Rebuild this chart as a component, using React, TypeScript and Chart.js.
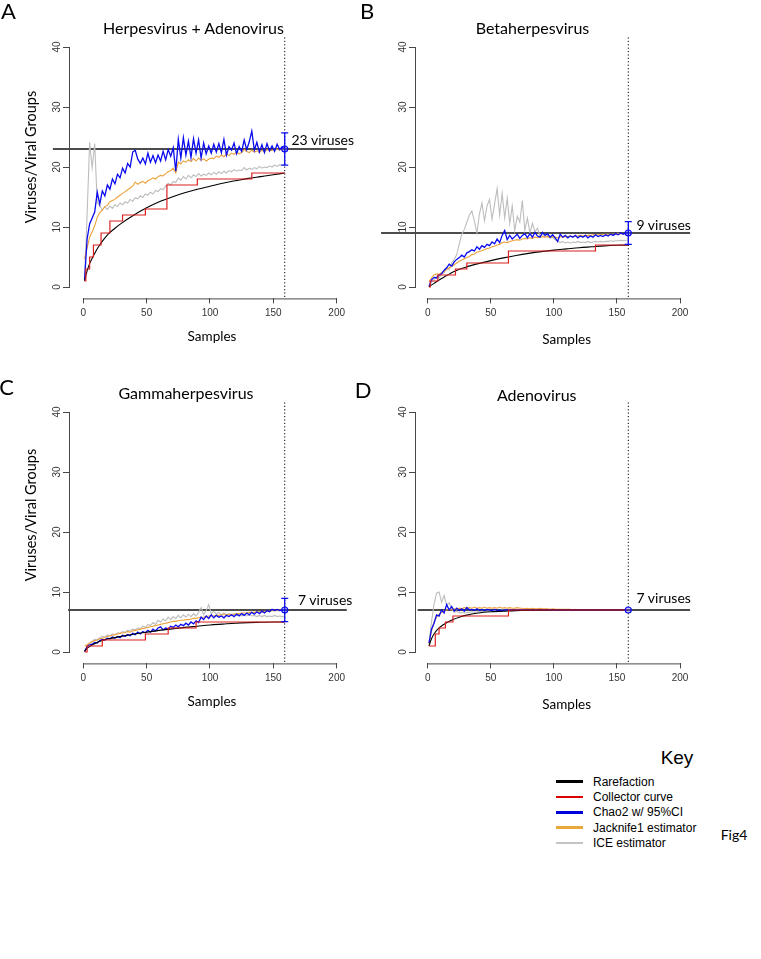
import React, { useEffect, useRef } from 'react';
import { Chart, registerables } from 'chart.js';

Chart.register(...registerables);

// ---------- shared axis data ----------
const SAMPLES = Array.from({ length: 80 }, (_, i) => 1 + 2 * i); // sample numbers 1,3,...,159
const SURVEY_SIZE = 159;
const X_TICKS = [0, 50, 100, 150, 200];
const Y_TICKS = [0, 10, 20, 30, 40];

// ---------- Panel A : Herpesvirus + Adenovirus ----------
const A_RARE_X = [1, 3, 5, 8, 12, 16, 20, 25, 30, 40, 50, 60, 70, 80, 90, 100, 110, 120, 130, 140, 150, 159];
const A_RARE_Y = [1.0, 2.7, 3.9, 5.2, 6.7, 7.9, 8.9, 9.8, 10.6, 12.0, 13.2, 14.2, 15.0, 15.7, 16.3, 16.8, 17.3, 17.7, 18.1, 18.4, 18.7, 19.0];
const A_COLL_X = [1, 2, 5, 8, 14, 21, 31, 49, 66, 90, 133, 159];
const A_COLL_Y = [1, 3, 5, 7, 9, 11, 12, 13, 17, 18, 19, 19];
const A_CHAO2 = [
  1.2, 8.0, 10.5, 11.5, 12.5, 15.8, 13.8, 16.0, 15.2, 17.0,
  16.3, 18.0, 17.2, 18.8, 18.2, 19.8, 19.0, 20.6, 20.0, 22.5,
  22.8, 21.3, 20.6, 21.5, 20.5, 22.3, 20.8, 21.9, 20.7, 22.0,
  21.0, 22.6, 21.2, 22.9, 21.8, 23.2, 19.3, 24.6, 21.5, 24.9,
  22.0, 24.3, 21.6, 24.7, 22.3, 24.5, 21.5, 24.0, 22.2, 23.5,
  22.3, 23.8, 22.5, 23.9, 22.4, 24.6, 22.0, 23.4, 22.8, 24.0,
  22.2, 23.4, 22.6, 24.5, 22.9, 24.2, 26.0, 22.8, 24.1, 22.5,
  23.7, 22.4, 23.9, 22.7, 23.5, 22.6, 23.8, 22.9, 23.4, 23.0,
];
const A_JACK1 = [
  4.7, 6.5, 8.3, 9.2, 10.2, 11.6, 12.4, 12.8, 13.4, 13.6,
  14.2, 14.4, 14.6, 15.0, 15.3, 15.6, 15.9, 16.2, 16.5, 16.8,
  17.5, 17.1, 17.4, 17.6, 17.3, 17.7, 17.9, 18.2, 18.0, 18.4,
  18.6, 18.5, 18.9, 19.2, 19.4, 19.8, 19.0, 20.8, 20.5, 21.0,
  20.8, 21.2, 20.9, 21.4, 21.0, 21.5, 21.1, 21.4, 21.0, 21.3,
  21.5, 21.4, 21.8, 21.6, 22.0, 21.7, 22.2, 21.9, 22.3, 22.1,
  22.5, 22.2, 22.4, 22.9, 22.6, 22.4, 22.8, 22.5, 22.7, 22.4,
  22.8, 22.6, 22.9, 22.7, 22.8, 22.9, 23.0, 22.8, 23.0, 23.0,
];
const A_ICE = [
  1.2, 12.0, 24.1, 19.9, 23.9, 14.0, 13.6, 12.8, 13.4, 12.9,
  13.5, 13.1, 13.7, 13.4, 14.0, 13.7, 14.2, 14.0, 14.6, 14.3,
  14.9, 14.7, 15.2, 14.9, 15.5, 15.3, 15.8, 15.5, 16.1, 15.9,
  16.4, 16.2, 16.8, 17.3, 17.0, 17.6, 17.4, 18.2, 17.8, 18.4,
  18.0, 18.6, 18.2, 18.7, 18.4, 18.9, 18.5, 18.8, 18.6, 19.0,
  18.7, 19.1, 18.8, 19.2, 18.9, 19.3, 19.0, 19.4, 19.2, 19.6,
  19.3, 19.5, 19.4, 19.9, 19.5, 19.8, 19.6, 19.9, 19.7, 20.1,
  19.8, 20.0, 19.9, 20.2, 20.0, 20.3, 20.1, 20.4, 20.3, 20.4,
];
const A_OBSERVED = 23;
const A_CI = [20.3, 25.7];

// ---------- Panel B : Betaherpesvirus ----------
const B_RARE_X = [1, 5, 10, 15, 20, 30, 40, 50, 60, 70, 80, 90, 100, 110, 120, 130, 140, 150, 159];
const B_RARE_Y = [0.05, 0.6, 1.3, 1.9, 2.5, 3.3, 3.9, 4.4, 4.85, 5.25, 5.6, 5.9, 6.15, 6.35, 6.55, 6.7, 6.85, 6.95, 7.0];
const B_COLL_X = [1, 2, 8, 22, 31, 64, 133, 159];
const B_COLL_Y = [0, 1, 2, 3, 4, 6, 7, 7];
const B_CHAO2 = [
  0.1, 1.2, 1.6, 1.5, 2.0, 2.2, 2.8, 3.2, 3.8, 3.5,
  4.2, 4.6, 4.9, 5.3, 5.0, 5.7, 5.9, 6.2, 6.0, 6.7,
  6.3, 6.9, 6.6, 7.1, 6.9, 7.5, 7.2, 8.0, 7.4, 8.6,
  9.4, 7.9, 8.6, 8.0, 8.4, 8.8, 8.1, 8.6, 8.9, 8.2,
  8.9, 8.3, 9.1, 8.5, 8.3, 9.1, 8.6, 8.9, 8.3, 8.7,
  8.2, 7.6, 8.8, 8.3, 8.6, 8.2, 8.5, 8.3, 8.6, 8.2,
  8.5, 8.3, 8.6, 8.2, 8.5, 8.3, 8.7, 8.4, 8.6, 8.4,
  8.7, 8.5, 8.8, 8.6, 8.9, 8.7, 9.0, 8.8, 9.0, 9.0,
];
const B_JACK1 = [
  0.9, 1.5, 2.0, 2.2, 2.1, 2.4, 2.6, 2.9, 3.2, 3.4,
  3.7, 4.0, 4.3, 4.5, 4.7, 4.9, 5.1, 5.4, 5.5, 5.8,
  5.9, 6.1, 6.2, 6.4, 6.5, 6.7, 6.8, 7.0, 7.1, 7.4,
  7.5, 7.4, 7.6, 7.7, 7.8, 7.9, 7.8, 8.0, 8.1, 8.0,
  8.2, 8.1, 8.3, 8.2, 8.3, 8.4, 8.3, 8.4, 8.3, 8.4,
  8.3, 8.2, 8.4, 8.3, 8.4, 8.4, 8.5, 8.4, 8.5, 8.5,
  8.6, 8.5, 8.6, 8.6, 8.6, 8.7, 8.7, 8.7, 8.7, 8.8,
  8.8, 8.8, 8.8, 8.8, 8.9, 8.9, 8.9, 8.9, 8.9, 9.0,
];
const B_ICE = [
  0.1, 0.8, 1.2, 1.8, 1.5, 2.2, 2.4, 3.2, 2.9, 4.0,
  4.6, 5.4, 7.2, 8.8, 9.6, 10.8, 12.0, 12.7, 11.0, 9.0,
  12.2, 14.0, 11.0, 13.5, 14.6, 11.3, 13.8, 16.4, 12.0, 15.6,
  11.5, 14.8, 10.6, 13.5, 9.4, 11.8, 10.8, 14.4, 9.4, 11.5,
  9.0, 10.6, 9.2, 9.8, 8.5, 8.8, 8.3, 8.6, 8.1, 8.3,
  7.9, 7.6, 7.4, 7.6, 7.3, 7.5, 7.3, 7.5, 7.4, 7.6,
  7.4, 7.5, 7.4, 7.6, 7.4, 7.5, 7.6, 7.5, 7.6, 7.5,
  7.6, 7.6, 7.7, 7.6, 7.7, 7.7, 7.8, 7.7, 7.8, 7.8,
];
const B_OBSERVED = 9;
const B_CI = [7.1, 10.9];

// ---------- Panel C : Gammaherpesvirus ----------
const C_RARE_X = [1, 3, 5, 10, 15, 20, 30, 40, 50, 60, 70, 80, 90, 100, 110, 120, 130, 140, 150, 159];
const C_RARE_Y = [0.1, 0.6, 0.9, 1.5, 1.9, 2.2, 2.6, 3.0, 3.3, 3.6, 3.85, 4.1, 4.3, 4.5, 4.65, 4.8, 4.9, 4.95, 5.0, 5.0];
const C_COLL_X = [1, 3, 15, 49, 67, 89, 159];
const C_COLL_Y = [0, 1, 2, 3, 4, 5, 5];
const C_CHAO2 = [
  0.1, 0.9, 1.2, 1.3, 1.6, 1.5, 1.9, 2.1, 2.0, 2.3,
  2.2, 2.5, 2.3, 2.6, 2.4, 2.8, 2.6, 2.9, 2.7, 3.1,
  2.9, 3.3, 3.0, 3.4, 3.2, 3.6, 3.3, 3.8, 3.5, 4.0,
  4.2, 3.7, 4.0, 3.8, 4.3, 4.1, 4.5, 4.2, 4.6, 4.4,
  4.8, 4.5, 5.0, 4.7, 5.2, 4.9, 5.8, 5.4, 6.0, 5.6,
  6.2, 5.7, 6.1, 5.8, 6.0, 5.7, 6.1, 5.9, 6.2, 5.9,
  6.3, 6.0, 6.4, 6.1, 6.5, 6.2, 6.6, 6.3, 6.7, 6.4,
  6.8, 6.5, 6.9, 6.7, 7.1, 6.9, 7.1, 6.9, 7.0, 7.0,
];
const C_JACK1 = [
  1.0, 1.2, 1.5, 1.7, 1.9, 2.0, 2.2, 2.3, 2.4, 2.6,
  2.7, 2.8, 2.9, 3.0, 3.1, 3.2, 3.2, 3.4, 3.3, 3.5,
  3.6, 3.7, 3.8, 3.9, 4.0, 4.1, 4.2, 4.3, 4.4, 4.5,
  4.6, 4.7, 4.8, 4.9, 5.0, 5.1, 5.1, 5.2, 5.3, 5.3,
  5.4, 5.4, 5.5, 5.6, 5.6, 5.7, 5.8, 5.8, 5.9, 6.0,
  6.0, 6.0, 6.1, 6.1, 6.2, 6.2, 6.2, 6.3, 6.3, 6.3,
  6.4, 6.4, 6.5, 6.5, 6.5, 6.6, 6.6, 6.6, 6.7, 6.7,
  6.7, 6.8, 6.8, 6.8, 6.9, 6.9, 6.9, 7.0, 7.0, 7.0,
];
const C_ICE = [
  0.1, 1.0, 1.5, 1.8, 2.1, 2.0, 2.4, 2.6, 2.5, 2.8,
  2.7, 3.0, 2.9, 3.2, 3.1, 3.4, 3.3, 3.6, 3.5, 3.8,
  3.7, 4.0, 3.9, 4.3, 4.1, 4.6, 4.4, 4.9, 4.6, 5.3,
  5.0, 5.5, 5.2, 5.8, 5.4, 5.9, 5.6, 6.1, 5.7, 6.2,
  5.8, 6.3, 5.9, 6.4, 6.0, 6.6, 7.4, 6.2, 6.9, 7.9,
  6.4, 6.8, 6.3, 6.6, 6.2, 6.5, 6.2, 6.4, 6.1, 6.3,
  6.1, 6.3, 6.0, 6.2, 6.0, 6.2, 6.0, 6.1, 5.9, 6.1,
  5.9, 6.1, 5.9, 6.0, 5.9, 6.1, 5.9, 6.0, 5.9, 6.0,
];
const C_OBSERVED = 7;
const C_CI = [5.05, 8.95];

// ---------- Panel D : Adenovirus ----------
const D_RARE_X = [1, 3, 5, 8, 12, 16, 20, 25, 30, 40, 50, 60, 70, 80, 100, 159];
const D_RARE_Y = [1.0, 2.2, 3.0, 3.8, 4.5, 5.0, 5.4, 5.8, 6.1, 6.5, 6.7, 6.8, 6.9, 6.95, 7.0, 7.0];
const D_COLL_X = [1, 6, 9, 14, 20, 64, 159];
const D_COLL_Y = [1, 3, 4, 5, 6, 7, 7];
const D_CHAO2 = [
  1.5, 3.8, 4.8, 6.2, 6.0, 7.0, 6.5, 7.9, 7.0, 7.6,
  6.8, 7.3, 6.9, 7.2, 6.8, 7.4, 7.0, 7.1, 6.9, 7.2,
  6.9, 7.1, 6.9, 7.1, 7.0, 6.9, 7.1, 6.9, 7.0, 6.9,
  7.0, 7.0, 7.0, 7.0, 7.0, 7.0, 7.0, 7.0, 7.0, 7.0,
  7.0, 7.0, 7.0, 7.0, 7.0, 7.0, 7.0, 7.0, 7.0, 7.0,
  7.0, 7.0, 7.0, 7.0, 7.0, 7.0, 7.0, 7.0, 7.0, 7.0,
  7.0, 7.0, 7.0, 7.0, 7.0, 7.0, 7.0, 7.0, 7.0, 7.0,
  7.0, 7.0, 7.0, 7.0, 7.0, 7.0, 7.0, 7.0, 7.0, 7.0,
];
const D_JACK1 = [
  1.2, 3.5, 5.0, 5.8, 6.3, 6.6, 6.9, 7.0, 7.1, 7.0,
  7.2, 7.1, 7.3, 7.2, 7.4, 7.3, 7.4, 7.3, 7.5, 7.3,
  7.4, 7.3, 7.5, 7.3, 7.4, 7.3, 7.4, 7.3, 7.5, 7.3,
  7.4, 7.3, 7.4, 7.3, 7.3, 7.4, 7.3, 7.3, 7.2, 7.3,
  7.2, 7.3, 7.2, 7.2, 7.3, 7.2, 7.2, 7.2, 7.1, 7.2,
  7.1, 7.1, 7.1, 7.1, 7.1, 7.1, 7.1, 7.0, 7.1, 7.0,
  7.0, 7.0, 7.0, 7.0, 7.0, 7.0, 7.0, 7.0, 7.0, 7.0,
  7.0, 7.0, 7.0, 7.0, 7.0, 7.0, 7.0, 7.0, 7.0, 7.0,
];
const D_ICE = [
  1.5, 5.0, 8.0, 9.8, 10.0, 8.3, 9.4, 7.8, 8.2, 7.2,
  6.6, 6.8, 6.5, 6.6, 6.5, 6.6, 6.6, 6.7, 6.6, 6.7,
  6.7, 6.8, 6.8, 6.8, 6.9, 6.9, 6.9, 6.9, 6.9, 7.0,
  7.0, 7.0, 7.0, 7.0, 7.0, 7.0, 7.0, 7.0, 7.0, 7.0,
  7.0, 7.0, 7.0, 7.0, 7.0, 7.0, 7.0, 7.0, 7.0, 7.0,
  7.0, 7.0, 7.0, 7.0, 7.0, 7.0, 7.0, 7.0, 7.0, 7.0,
  7.0, 7.0, 7.0, 7.0, 7.0, 7.0, 7.0, 7.0, 7.0, 7.0,
  7.0, 7.0, 7.0, 7.0, 7.0, 7.0, 7.0, 7.0, 7.0, 7.0,
];
const D_OBSERVED = 7;

// ---------- legend ----------
const KEY_LABELS = ['Rarefaction', 'Collector curve', 'Chao2 w/ 95%CI', 'Jacknife1 estimator', 'ICE estimator'];

// ---------- styles ----------
const C_BLACK = '#000000';
const C_RED = '#dc2020';
const C_BLUE = '#0a0af0';
const C_ORANGE = '#eca23a';
const C_GREY = '#bdbdbd';
const C_AXIS = '#474747';
const KEY_COLORS = ['#000000', '#dd0000', '#0000dd', '#e8a83c', '#c4c4c4'];
const TITLE_FONT = 'Lato, "Open Sans", sans-serif';
const HELV = '"Liberation Sans", Arial, Helvetica, sans-serif';
const Y_AXIS_W = 30;
const X_AXIS_H = 40;

type PanelDef = {
  title: string;
  letter: string;
  rareX: number[]; rareY: number[];
  collX: number[]; collY: number[];
  chao: number[]; jack: number[]; ice: number[];
  observed: number;
  ci: number[] | null;
  hlineFrom: number;
  left: number; top: number; width: number; height: number;
  xMin: number; xMax: number; yMin: number; yMax: number;
  padL: number; padT: number; padR: number; padB: number;
};

const zip = (xs: number[], ys: number[]) => xs.map((x, i) => ({ x, y: ys[i] }));

const PANELS: PanelDef[] = [
  {
    title: 'Herpesvirus + Adenovirus', letter: 'A',
    rareX: A_RARE_X, rareY: A_RARE_Y, collX: A_COLL_X, collY: A_COLL_Y,
    chao: A_CHAO2, jack: A_JACK1, ice: A_ICE, observed: A_OBSERVED, ci: A_CI, hlineFrom: -24,
    left: 0, top: 0, width: 380, height: 360,
    xMin: -10.5, xMax: 208, yMin: -1.9, yMax: 41.6,
    padL: 40, padT: 37.4, padR: 33.2, padB: 21.6,
  },
  {
    title: 'Betaherpesvirus', letter: 'B',
    rareX: B_RARE_X, rareY: B_RARE_Y, collX: B_COLL_X, collY: B_COLL_Y,
    chao: B_CHAO2, jack: B_JACK1, ice: B_ICE, observed: B_OBSERVED, ci: B_CI, hlineFrom: -37,
    left: 380, top: 0, width: 381, height: 360,
    xMin: -9.3, xMax: 208, yMin: -1.9, yMax: 41.6,
    padL: 6, padT: 37.4, padR: 70.9, padB: 21.6,
  },
  {
    title: 'Gammaherpesvirus', letter: 'C',
    rareX: C_RARE_X, rareY: C_RARE_Y, collX: C_COLL_X, collY: C_COLL_Y,
    chao: C_CHAO2, jack: C_JACK1, ice: C_ICE, observed: C_OBSERVED, ci: C_CI, hlineFrom: -12,
    left: 0, top: 365, width: 380, height: 360,
    xMin: -10.5, xMax: 208, yMin: -1.9, yMax: 41.6,
    padL: 40, padT: 37.4, padR: 33.2, padB: 21.6,
  },
  {
    title: 'Adenovirus', letter: 'D',
    rareX: D_RARE_X, rareY: D_RARE_Y, collX: D_COLL_X, collY: D_COLL_Y,
    chao: D_CHAO2, jack: D_JACK1, ice: D_ICE, observed: D_OBSERVED, ci: null, hlineFrom: -8,
    left: 380, top: 365, width: 381, height: 360,
    xMin: -9.3, xMax: 208, yMin: -1.9, yMax: 41.6,
    padL: 6, padT: 37.4, padR: 70.9, padB: 21.6,
  },
];

const rAxesPlugin = {
  id: 'rAxes',
  beforeDatasetsDraw(chart: any) {
    const { ctx, chartArea, scales } = chart;
    const px = scales.x.getPixelForValue(SURVEY_SIZE);
    ctx.save();
    ctx.strokeStyle = '#000';
    ctx.lineWidth = 1;
    ctx.setLineDash([1.2, 2.2]);
    ctx.beginPath();
    ctx.moveTo(px, chartArea.top);
    ctx.lineTo(px, chartArea.bottom);
    ctx.stroke();
    ctx.restore();
  },
  afterDraw(chart: any) {
    const { ctx, chartArea, scales } = chart;
    const x = scales.x;
    const y = scales.y;
    ctx.save();
    ctx.strokeStyle = C_AXIS;
    ctx.lineWidth = 1;
    ctx.beginPath();
    ctx.moveTo(x.getPixelForValue(X_TICKS[0]), chartArea.bottom + 0.5);
    ctx.lineTo(x.getPixelForValue(X_TICKS[X_TICKS.length - 1]), chartArea.bottom + 0.5);
    ctx.moveTo(chartArea.left - 0.5, y.getPixelForValue(Y_TICKS[0]));
    ctx.lineTo(chartArea.left - 0.5, y.getPixelForValue(Y_TICKS[Y_TICKS.length - 1]));
    ctx.stroke();
    ctx.restore();
  },
};

function PanelChart({ p }: { p: PanelDef }) {
  const ref = useRef<HTMLCanvasElement>(null);
  useEffect(() => {
    if (!ref.current) return;
    const line = (data: any[], color: string, width: number, extra: any = {}) => ({
      data, showLine: true, borderColor: color, backgroundColor: color, borderWidth: width,
      pointRadius: 0, pointHoverRadius: 0, tension: 0, fill: false, ...extra,
    });
    const datasets: any[] = [];
    if (p.ci) {
      datasets.push({
        data: p.ci.map((v) => ({ x: SURVEY_SIZE, y: v })), showLine: true,
        borderColor: C_BLUE, borderWidth: 1.3, pointStyle: 'line', pointRadius: 3.5,
        pointBorderColor: C_BLUE, pointBorderWidth: 1.3, pointHoverRadius: 0,
      });
    }
    datasets.push({
      data: [{ x: SURVEY_SIZE, y: p.observed }], showLine: false, pointStyle: 'circle',
      pointRadius: 3, pointBorderColor: C_BLUE, pointBackgroundColor: 'rgba(90,90,255,0.35)',
      pointBorderWidth: 1.2, pointHoverRadius: 0,
    });
    datasets.push(line(zip(p.collX, p.collY), C_RED, 1.2, { stepped: 'before' }));
    datasets.push(line(zip(p.rareX, p.rareY), C_BLACK, 1.1, { cubicInterpolationMode: 'monotone' }));
    datasets.push(line(zip(SAMPLES, p.chao), C_BLUE, 1.3));
    datasets.push(line(zip(SAMPLES, p.jack), C_ORANGE, 1.1));
    datasets.push(line(zip(SAMPLES, p.ice), C_GREY, 1.1));
    datasets.push(line([{ x: p.hlineFrom, y: p.observed }, { x: p.xMax, y: p.observed }], '#111111', 1.4, { clip: false }));

    const chart = new Chart(ref.current, {
      type: 'scatter',
      data: { datasets },
      plugins: [rAxesPlugin],
      options: {
        responsive: false,
        animation: false,
        events: [],
        layout: { padding: { left: p.padL, top: p.padT, right: p.padR, bottom: p.padB } },
        plugins: { legend: { display: false }, tooltip: { enabled: false }, title: { display: false } },
        scales: {
          x: {
            type: 'linear', min: p.xMin, max: p.xMax,
            afterBuildTicks: (s: any) => { s.ticks = X_TICKS.map((v) => ({ value: v })); },
            afterFit: (s: any) => { s.height = X_AXIS_H; },
            grid: { display: true, drawOnChartArea: false, drawTicks: true, tickLength: 5, color: C_AXIS, lineWidth: 1 },
            border: { display: false },
            ticks: { color: '#333', font: { family: HELV, size: 10 }, padding: 4, minRotation: 0, maxRotation: 0, autoSkip: false },
          },
          y: {
            type: 'linear', min: p.yMin, max: p.yMax,
            afterBuildTicks: (s: any) => { s.ticks = Y_TICKS.map((v) => ({ value: v })); },
            afterFit: (s: any) => { s.width = Y_AXIS_W; },
            grid: { display: true, drawOnChartArea: false, drawTicks: true, tickLength: 7, color: C_AXIS, lineWidth: 1 },
            border: { display: false },
            ticks: { color: '#333', font: { family: HELV, size: 10 }, padding: 0, minRotation: 90, maxRotation: 90, crossAlign: 'center', autoSkip: false },
          },
        },
      } as any,
    });
    return () => chart.destroy();
  }, [p]);
  return (
    <canvas
      ref={ref}
      width={p.width}
      height={p.height}
      style={{ position: 'absolute', left: p.left, top: p.top, width: p.width, height: p.height }}
    />
  );
}

type TextSpec = { text: string; x: number; y: number; size: number; font?: string; rotate?: boolean; anchor?: 'center' | 'left' };

const TEXTS: TextSpec[] = [
  { text: 'A', x: 8.5, y: 11, size: 22 },
  { text: 'B', x: 367, y: 11, size: 22 },
  { text: 'C', x: 6.5, y: 387, size: 22 },
  { text: 'D', x: 363, y: 390, size: 22 },
  { text: 'Herpesvirus + Adenovirus', x: 193.5, y: 27.5, size: 16 },
  { text: 'Betaherpesvirus', x: 532.5, y: 27.5, size: 16 },
  { text: 'Gammaherpesvirus', x: 186, y: 393, size: 16 },
  { text: 'Adenovirus', x: 536.7, y: 395, size: 16 },
  { text: 'Samples', x: 212, y: 337, size: 13.5 },
  { text: 'Samples', x: 566.7, y: 340, size: 13.5 },
  { text: 'Samples', x: 212, y: 702, size: 13.5 },
  { text: 'Samples', x: 566.7, y: 705, size: 13.5 },
  { text: 'Viruses/Viral Groups', x: 31, y: 157, size: 14.5, rotate: true },
  { text: 'Viruses/Viral Groups', x: 31, y: 515, size: 14.5, rotate: true },
  { text: '23 viruses', x: 291.5, y: 140, size: 14, anchor: 'left' },
  { text: '9 viruses', x: 636.5, y: 225, size: 14, anchor: 'left' },
  { text: '7 viruses', x: 298, y: 600, size: 14, anchor: 'left' },
  { text: '7 viruses', x: 636.5, y: 598, size: 14, anchor: 'left' },
  { text: 'Key', x: 677, y: 757, size: 19, font: HELV },
  { text: 'Fig4', x: 734, y: 835, size: 14 },
];

export default function App() {
  return (
    <div style={{ position: 'fixed', left: 0, top: 0, width: 761, height: 959, background: '#fff', overflow: 'hidden' }}>
      {PANELS.map((p) => (
        <PanelChart key={p.letter} p={p} />
      ))}
      {TEXTS.map((t, i) => (
        <div
          key={i}
          style={{
            position: 'absolute', left: t.x, top: t.y, whiteSpace: 'nowrap', lineHeight: 1,
            fontFamily: t.font || TITLE_FONT, fontSize: t.size, color: '#000',
            transform: t.rotate
              ? 'translate(-50%, -50%) rotate(-90deg)'
              : t.anchor === 'left' ? 'translate(0, -50%)' : 'translate(-50%, -50%)',
          }}
        >
          {t.text}
        </div>
      ))}
      {KEY_LABELS.map((label, i) => (
        <div key={label} style={{ position: 'absolute', left: 556, top: 781.7 + i * 15.3, transform: 'translate(0, -50%)', display: 'flex', alignItems: 'center' }}>
          <div style={{ width: 27, height: 2.5, background: KEY_COLORS[i], marginRight: 10 }} />
          <span style={{ fontFamily: HELV, fontSize: 12, lineHeight: 1, color: '#000' }}>{label}</span>
        </div>
      ))}
    </div>
  );
}
